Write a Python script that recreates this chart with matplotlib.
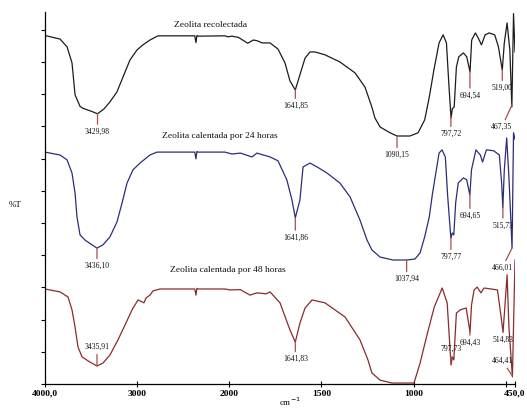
import numpy as np
import matplotlib
matplotlib.use("Agg")
import matplotlib.pyplot as plt

# ---------------- data ----------------
bk_wn = [4000, 3837, 3761, 3707, 3674, 3620, 3588, 3490, 3430, 3360, 3295, 3219, 3154, 3078, 3002,
         2937, 2861, 2774, 2644, 2375, 2362, 2352, 2340, 2047, 2014, 1985, 1950, 1900, 1870, 1850,
         1822, 1779, 1736, 1698, 1671, 1642, 1617, 1589, 1562, 1535, 1481, 1400, 1318, 1264, 1226,
         1210, 1182, 1128, 1090, 1020, 976, 940, 915, 890, 862, 840, 822, 808, 797, 790, 780, 768,
         755, 730, 712, 694, 685, 665, 650, 632, 612, 590, 560, 540, 519, 508, 493, 478, 467, 458, 450]
bk_T = [10.82, 10.71, 10.47, 9.97, 8.98, 8.62, 8.56, 8.46, 8.39, 8.54, 8.76, 9.07, 9.53, 10.06, 10.37,
        10.53, 10.68, 10.81, 10.81, 10.81, 10.60, 10.82, 10.80, 10.81, 10.78, 10.80, 10.76, 10.58, 10.68, 10.66,
        10.59, 10.59, 10.40, 9.97, 9.41, 9.13, 9.60, 10.12, 10.31, 10.31, 10.22, 10.00, 9.66, 9.22, 8.59,
        8.26, 7.98, 7.80, 7.70, 7.70, 7.80, 8.20, 8.91, 9.75, 10.59, 10.84, 10.59, 9.22, 8.26, 8.55, 8.60, 9.84,
        10.16, 10.28, 10.16, 9.69, 10.68, 10.90, 10.75, 10.53, 10.84, 10.90, 10.84, 10.47, 9.75, 10.59, 11.21, 10.37, 8.60, 11.50, 10.31]

bl_wn = [4000, 3837, 3761, 3707, 3674, 3653, 3620, 3566, 3490, 3436, 3371, 3295, 3219, 3164, 3110,
         3045, 2969, 2861, 2785, 2375, 2362, 2352, 2340, 2047, 1985, 1940, 1877, 1850, 1822, 1779,
         1736, 1688, 1660, 1642, 1617, 1600, 1562, 1524, 1470, 1400, 1345, 1291, 1253, 1226, 1182,
         1112, 1038, 993, 965, 940, 915, 898, 862, 846, 828, 815, 798, 790, 782, 772, 758, 730, 712,
         695, 686, 662, 638, 626, 605, 565, 535, 522, 516, 508, 495, 483, 466, 458, 450]
bl_T = [7.20, 7.11, 6.96, 6.55, 5.93, 5.19, 4.63, 4.47, 4.32, 4.22, 4.32, 4.57, 5.03, 5.62, 6.24,
        6.65, 6.86, 7.11, 7.20, 7.20, 6.99, 7.22, 7.20, 7.20, 7.14, 7.17, 7.05, 7.17, 7.12, 7.05,
        6.93, 6.34, 5.71, 5.16, 5.71, 6.74, 6.86, 6.74, 6.55, 6.24, 5.81, 5.09, 4.47, 4.16, 3.94,
        3.85, 3.85, 3.88, 4.07, 4.57, 5.19, 5.90, 7.17, 7.27, 7.05, 5.81, 4.53, 4.69, 4.63, 5.62, 6.24, 6.40, 6.34,
        5.87, 6.65, 7.27, 7.11, 6.89, 7.27, 7.24, 7.11, 6.20, 5.47, 6.65, 7.64, 6.43, 4.22, 7.80, 7.60]

rd_wn = [4000, 3837, 3750, 3707, 3674, 3642, 3598, 3512, 3436, 3371, 3295, 3208, 3132, 3056, 2991,
         2926, 2904, 2861, 2828, 2752, 2375, 2362, 2352, 2340, 2047, 1996, 1940, 1888, 1850, 1800,
         1779, 1725, 1671, 1642, 1617, 1589, 1551, 1481, 1372, 1291, 1248, 1226, 1182, 1117, 998,
         965, 925, 888, 845, 818, 797, 790, 782, 768, 748, 715, 694, 686, 672, 655, 635, 618, 580,
         545, 522, 515, 505, 493, 483, 464, 450]
rd_T = [2.95, 2.86, 2.70, 2.30, 1.77, 1.15, 0.84, 0.68, 0.56, 0.65, 0.90, 1.37, 1.83, 2.30, 2.61,
        2.52, 2.67, 2.76, 2.89, 2.95, 2.95, 2.76, 2.97, 2.95, 2.95, 2.92, 2.93, 2.76, 2.83, 2.80,
        2.86, 2.52, 1.68, 1.30, 1.89, 2.36, 2.61, 2.52, 2.08, 1.37, 0.75, 0.34, 0.12, 0.03, 0.03,
        0.65, 1.58, 2.39, 2.98, 2.52, 0.59, 0.84, 0.75, 2.20, 2.30, 2.36, 1.61, 2.45, 2.92, 3.01, 2.83, 2.98, 2.95,
        2.92, 1.93, 1.61, 2.39, 3.39, 1.77, 0.22, 3.85]

titles = ["Zeolita recolectada", "Zeolita calentada por 24 horas", "Zeolita calentada por 48 horas"]

bk_peaks = [3429.98, 1641.85, 1090.15, 797.72, 694.54, 519.00, 467.35]
bl_peaks = [3436.10, 1641.86, 1037.94, 797.77, 694.65, 515.73, 466.01]
rd_peaks = [3435.91, 1641.83, 797.73, 694.43, 514.83, 464.41]

xticks = [4000, 3000, 2000, 1500, 1000, 500, 450]
xticklabels = ["4000,0", "3000", "2000", "1500", "1000", "", "450,0"]

# ---------------- style ----------------
SERIF = "Liberation Serif"
c_bk, c_bl, c_rd = "#1c1c1c", "#2a2e7a", "#8a2b2b"
c_an = "#a4504c"

def fwd(x):
    x = np.asarray(x, dtype=float)
    return np.where(x >= 2000, x, 2 * x - 2000)

def inv(t):
    t = np.asarray(t, dtype=float)
    return np.where(t >= 2000, t, (t + 2000) / 2)

fig = plt.figure(figsize=(5.27, 4.08), dpi=100)
ax = fig.add_axes([45 / 527, 24 / 408, 470 / 527, 372 / 408])
ax.set_xscale("function", functions=(fwd, inv))
ax.set_xlim(4000, 450)
ax.set_ylim(0, 11.55)

for wn, T, c in [(bk_wn, bk_T, c_bk), (bl_wn, bl_T, c_bl), (rd_wn, rd_T, c_rd)]:
    ax.plot(wn, T, color=c, lw=0.9, solid_joinstyle="round")

def val(wn_arr, T_arr, w):
    return float(np.interp(w, wn_arr[::-1], T_arr[::-1]))

def mark(wn_arr, T_arr, w, dx, dy):
    y = val(wn_arr, T_arr, w)
    txt = f"{w:.2f}".replace(".", ",")
    ax.annotate(txt, xy=(w, y), xytext=(dx * 0.72, -dy * 0.72), textcoords="offset points",
                ha="center", va="center", fontsize=5.5, family=SERIF, color="#111111",
                arrowprops=dict(arrowstyle="-", color=c_an, lw=0.9, shrinkA=0.5, shrinkB=0))

bk_off = [(0, 18), (0, 16), (0, 19), (0, 18), (0, 24), (0, 18), (-10, 22)]
bl_off = [(0, 18), (0, 20), (0, 19), (0, 19), (0, 22), (0, 19), (-10, 20)]
rd_off = [(0, -19), (0, 17), (0, -14), (0, 11), (0, 8), (-10, -15)]

for arrs, peaks, offs in [((bk_wn, bk_T), bk_peaks, bk_off), ((bl_wn, bl_T), bl_peaks, bl_off),
                          ((rd_wn, rd_T), rd_peaks, rd_off)]:
    a_wn, a_T = np.array(arrs[0], float), np.array(arrs[1], float)
    for p, (dx, dy) in zip(peaks, offs):
        mark(a_wn, a_T, p, dx, dy)

# titles (figure pixel coords)
for t, (px, py) in zip(titles, [(210, 25), (220, 136), (228, 270)]):
    fig.text(px / 527, 1 - py / 408, t, ha="center", va="center", fontsize=6.8, family=SERIF, color="#111111")

fig.text(15 / 527, 1 - 205 / 408, "%T", ha="center", va="center", fontsize=6.5, family=SERIF)
fig.text(290 / 527, 1 - 402 / 408, r"cm$^{-1}$", ha="center", va="center", fontsize=6.5, family=SERIF)

ax.set_xticks(xticks)
ax.set_xticklabels(xticklabels, fontsize=6.8, family=SERIF, fontweight="bold")
ax.set_yticks(np.arange(0, 12, 1))
ax.set_yticklabels([])
ax.tick_params(axis="x", direction="inout", length=4, width=0.8, pad=2)
ax.tick_params(axis="y", direction="out", length=3, width=0.8)
ax.minorticks_off()
for s in ["top", "right"]:
    ax.spines[s].set_visible(False)
for s in ["left", "bottom"]:
    ax.spines[s].set_linewidth(0.9)

fig.savefig("out.png", dpi=100)
